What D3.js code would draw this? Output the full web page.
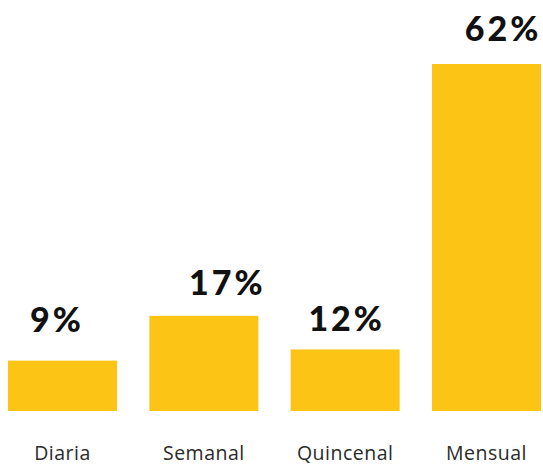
<!DOCTYPE html>
<meta charset="utf-8">
<style>
  html, body { margin: 0; padding: 0; background: #fff; }
  .bar { fill: #fcc414; }
  .value { font-family: Lato, sans-serif; font-weight: 900; font-size: 34px; letter-spacing: 3px; fill: #111; }
  .cat { font-family: "Open Sans", sans-serif; font-weight: 400; font-size: 19.5px; letter-spacing: 0.5px; fill: #2a2a2a; }
</style>
<body>
<svg id="chart"></svg>
<script src="https://d3js.org/d3.v7.min.js"></script>
<script>
// data
var categories = ["Diaria", "Semanal", "Quincenal", "Mensual"];
var values = [9, 17, 11, 62];          // bar heights as drawn
var valueLabels = ["9%", "17%", "12%", "62%"];

// label nudges relative to bar centre / bar top (the original is hand placed)
var labelShift = [[-7, -29], [22, -21], [0, -18], [15, -23]];

var width = 543, height = 466;

var svg = d3.select("#chart")
    .attr("width", width)
    .attr("height", height);

var x = d3.scaleBand()
    .domain(categories)
    .range([8, 541])
    .paddingInner(0.229)
    .paddingOuter(0);

var y = d3.scaleLinear()
    .domain([0, 62])
    .range([411, 64]);

var data = categories.map(function(c, i) {
  return { cat: c, value: values[i], label: valueLabels[i], shift: labelShift[i] };
});

svg.selectAll(".bar")
    .data(data)
  .enter().append("rect")
    .attr("class", "bar")
    .attr("x", function(d) { return x(d.cat); })
    .attr("y", function(d) { return y(d.value); })
    .attr("width", x.bandwidth())
    .attr("height", function(d) { return y(0) - y(d.value); });

svg.selectAll(".value")
    .data(data)
  .enter().append("text")
    .attr("class", "value")
    .attr("text-anchor", "middle")
    .attr("x", function(d) { return x(d.cat) + x.bandwidth() / 2 + d.shift[0] + 1.5; })
    .attr("y", function(d) { return y(d.value) + d.shift[1]; })
    .text(function(d) { return d.label; });

// category axis, no line or ticks
var axis = svg.append("g")
    .attr("transform", "translate(0," + 445 + ")")
    .call(d3.axisBottom(x).tickSize(0).tickPadding(0));
axis.select(".domain").remove();
axis.selectAll("text")
    .attr("class", "cat")
    .attr("dy", null)
    .attr("y", 15)
    .attr("fill", null)
    .attr("font-size", null)
    .attr("font-family", null);
</script>
</body>
